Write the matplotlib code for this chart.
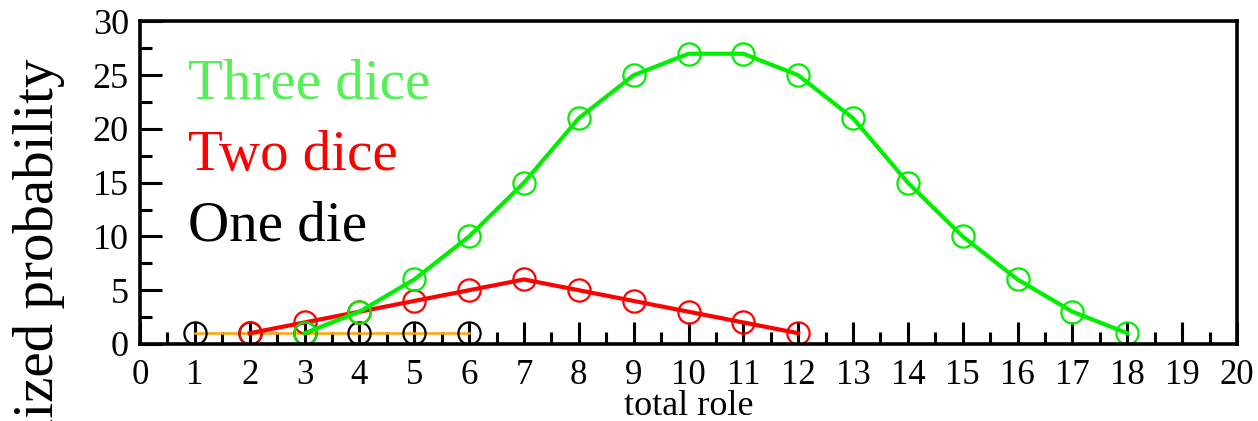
import matplotlib
matplotlib.use("Agg")
import matplotlib.pyplot as plt
from matplotlib.ticker import MultipleLocator

plt.rcParams["font.family"] = ["Liberation Serif", "DejaVu Serif"]

# number of ways to get each total
one_x = [1, 2, 3, 4, 5, 6]
one_y = [1, 1, 1, 1, 1, 1]
two_x = [2, 3, 4, 5, 6, 7, 8, 9, 10, 11, 12]
two_y = [1, 2, 3, 4, 5, 6, 5, 4, 3, 2, 1]
three_x = [3, 4, 5, 6, 7, 8, 9, 10, 11, 12, 13, 14, 15, 16, 17, 18]
three_y = [1, 3, 6, 10, 15, 21, 25, 27, 27, 25, 21, 15, 10, 6, 3, 1]

labels = ["Three dice", "Two dice", "One die"]
label_colors = ["#55f055", "#ff0000", "#000000"]

fig = plt.figure(figsize=(12.58, 4.21), dpi=100)
ax = fig.add_axes([0.1113, 0.183, 0.872, 0.766])

mk = dict(marker="o", markersize=16, markerfacecolor="none", markeredgewidth=1.6)
ax.plot(one_x, one_y, color="#ffa500", lw=1.8, markeredgecolor="black", **mk)
ax.plot(two_x, two_y, color="#ff0000", lw=3, markeredgecolor="#ff0000", **mk)
ax.plot(three_x, three_y, color="#00ee00", lw=3, markeredgecolor="#00ee00", **mk)

ax.set_xlim(0, 20)
ax.set_ylim(0, 30)
ax.xaxis.set_major_locator(MultipleLocator(1))
ax.xaxis.set_minor_locator(MultipleLocator(0.5))
ax.yaxis.set_major_locator(MultipleLocator(5))
ax.yaxis.set_minor_locator(MultipleLocator(2.5))
ax.tick_params(which="both", direction="in", top=False, right=False, width=2.2)
ax.tick_params(which="major", length=16)
ax.tick_params(which="minor", length=8.5)
ax.tick_params(axis="x", which="major", labelsize=25, pad=11)
ax.tick_params(axis="y", which="major", labelsize=26, pad=8)
for s in ax.spines.values():
    s.set_linewidth(2.6)

ax.set_xlabel("total role", fontsize=26, labelpad=-1.5)
fig.text(0.0103, 0.862, "normalized probability", rotation=90,
         fontsize=41, ha="left", va="top")

for lab, col, yy in zip(labels, label_colors, [0.760, 0.540, 0.322]):
    ax.text(0.0438, yy, lab, color=col, fontsize=41, va="baseline",
            transform=ax.transAxes)

fig.savefig("out.png", dpi=100)
